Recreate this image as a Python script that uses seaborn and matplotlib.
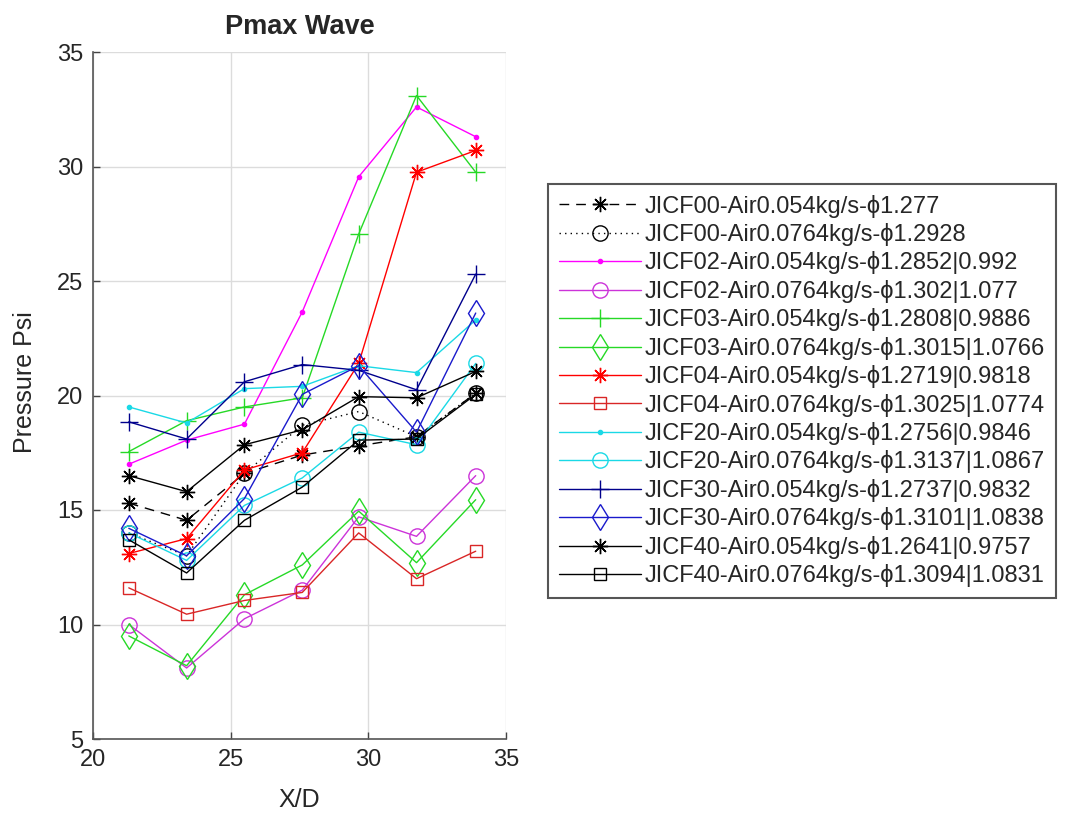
import numpy as np
import pandas as pd
import matplotlib
matplotlib.use("Agg")
import matplotlib.pyplot as plt
import seaborn as sns

sns.set_theme(style="whitegrid")
plt.rcParams["font.family"] = ["Liberation Sans", "DejaVu Sans"]

# x positions (X/D)
xd = [21.3, 23.4, 25.5, 27.6, 29.65, 31.75, 33.9]

labels = [
    "JICF00-Air0.054kg/s-ϕ1.277",
    "JICF00-Air0.0764kg/s-ϕ1.2928",
    "JICF02-Air0.054kg/s-ϕ1.2852|0.992",
    "JICF02-Air0.0764kg/s-ϕ1.302|1.077",
    "JICF03-Air0.054kg/s-ϕ1.2808|0.9886",
    "JICF03-Air0.0764kg/s-ϕ1.3015|1.0766",
    "JICF04-Air0.054kg/s-ϕ1.2719|0.9818",
    "JICF04-Air0.0764kg/s-ϕ1.3025|1.0774",
    "JICF20-Air0.054kg/s-ϕ1.2756|0.9846",
    "JICF20-Air0.0764kg/s-ϕ1.3137|1.0867",
    "JICF30-Air0.054kg/s-ϕ1.2737|0.9832",
    "JICF30-Air0.0764kg/s-ϕ1.3101|1.0838",
    "JICF40-Air0.054kg/s-ϕ1.2641|0.9757",
    "JICF40-Air0.0764kg/s-ϕ1.3094|1.0831",
]

jicf00_a = [15.3, 14.55, 16.6, 17.4, 17.8, 18.2, 20.1]
jicf00_b = [14.0, 13.0, 16.6, 18.7, 19.3, 18.2, 20.1]
jicf02_a = [17.0, 18.05, 18.75, 23.65, 29.55, 32.6, 31.3]
jicf02_b = [10.0, 8.1, 10.25, 11.5, 14.7, 13.85, 16.5]
jicf03_a = [17.55, 18.9, 19.5, 19.9, 27.05, 33.1, 29.75]
jicf03_b = [9.5, 8.2, 11.3, 12.6, 14.95, 12.7, 15.45]
jicf04_a = [13.1, 13.75, 16.75, 17.5, 21.4, 29.75, 30.7]
jicf04_b = [11.6, 10.45, 11.05, 11.4, 14.0, 12.0, 13.2]
jicf20_a = [19.5, 18.8, 20.3, 20.4, 21.3, 21.0, 23.3]
jicf20_b = [14.0, 12.8, 15.2, 16.4, 18.4, 17.85, 21.4]
jicf30_a = [18.85, 18.1, 20.6, 21.35, 21.1, 20.25, 25.3]
jicf30_b = [14.2, 13.0, 15.5, 20.05, 21.3, 18.4, 23.6]
jicf40_a = [16.5, 15.8, 17.85, 18.5, 19.95, 19.9, 21.05]
jicf40_b = [13.7, 12.25, 14.55, 16.0, 18.05, 18.1, 20.05]

series = [jicf00_a, jicf00_b, jicf02_a, jicf02_b, jicf03_a, jicf03_b, jicf04_a,
          jicf04_b, jicf20_a, jicf20_b, jicf30_a, jicf30_b, jicf40_a, jicf40_b]

ASTERISK = (8, 2, 0)

styles = [
    dict(color="black", marker=ASTERISK, linestyle=(0, (7, 5)), ms=11),
    dict(color="black", marker="o", linestyle=(0, (1, 3)), ms=11, mfc="none"),
    dict(color=(1.0, 0.0, 1.0), marker=".", linestyle="-", ms=6),
    dict(color=(0.8, 0.2, 0.85), marker="o", linestyle="-", ms=11, mfc="none"),
    dict(color=(0.15, 0.85, 0.15), marker="+", linestyle="-", ms=13),
    dict(color=(0.15, 0.85, 0.15), marker="d", linestyle="-", ms=13, mfc="none"),
    dict(color=(1.0, 0.0, 0.0), marker=ASTERISK, linestyle="-", ms=11),
    dict(color=(0.85, 0.15, 0.15), marker="s", linestyle="-", ms=9, mfc="none"),
    dict(color=(0.1, 0.85, 0.9), marker=".", linestyle="-", ms=6),
    dict(color=(0.1, 0.85, 0.9), marker="o", linestyle="-", ms=11, mfc="none"),
    dict(color=(0.0, 0.0, 0.55), marker="+", linestyle="-", ms=13),
    dict(color=(0.1, 0.1, 0.8), marker="d", linestyle="-", ms=13, mfc="none"),
    dict(color="black", marker=ASTERISK, linestyle="-", ms=11),
    dict(color="black", marker="s", linestyle="-", ms=9, mfc="none"),
]

W, H = 1071, 814
fig = plt.figure(figsize=(W / 100, H / 100), dpi=100)
ax = fig.add_axes([93 / W, 1 - 739 / H, 413 / W, 687 / H])

for vals, lab, st in zip(series, labels, styles):
    df = pd.DataFrame({"x": xd, "y": vals})
    kw = dict(color=st["color"], marker=st["marker"], linestyle=st["linestyle"],
              markersize=st["ms"], markeredgewidth=1.0, linewidth=1.0,
              markeredgecolor=st["color"])
    kw["markerfacecolor"] = "none" if "mfc" in st else st["color"]
    sns.lineplot(data=df, x="x", y="y", ax=ax, label=lab, errorbar=None, **kw)

ax.set_xlim(20, 35)
ax.set_ylim(5, 35)
ax.set_xticks([20, 25, 30, 35])
ax.set_yticks([5, 10, 15, 20, 25, 30, 35])
ax.grid(True, color="#dcdcdc", linewidth=1.0)
ax.set_facecolor("white")
for side in ["top", "right"]:
    ax.spines[side].set_visible(False)
for side in ["left", "bottom"]:
    ax.spines[side].set_color("#555555")
    ax.spines[side].set_linewidth(1.2)
ax.tick_params(direction="in", length=5, width=1, colors="#444444",
               labelsize=17, labelcolor="#262626", left=True, bottom=True, pad=7)
ax.set_xlabel("X/D", fontsize=18, color="#262626")
ax.set_ylabel("Pressure Psi", fontsize=18, color="#262626")
ax.xaxis.set_label_coords(0.5, -0.072)
ax.yaxis.set_label_coords(-0.135, 0.52)
ax.set_title("Pmax Wave", fontsize=19.5, fontweight="bold", pad=13)

handles, labs = ax.get_legend_handles_labels()
leg = ax.legend(handles, labs, loc="upper left",
                bbox_to_anchor=(548 / W, 1 - 184 / H),
                bbox_transform=fig.transFigure, fontsize=17,
                handlelength=3.5, handletextpad=0.15, labelspacing=0.23,
                borderpad=0.45, fancybox=False, framealpha=1, numpoints=1,
                borderaxespad=0)
leg.get_frame().set_edgecolor("#555555")
leg.get_frame().set_linewidth(1.5)

fig.savefig("out.png", dpi=100, facecolor="white")
